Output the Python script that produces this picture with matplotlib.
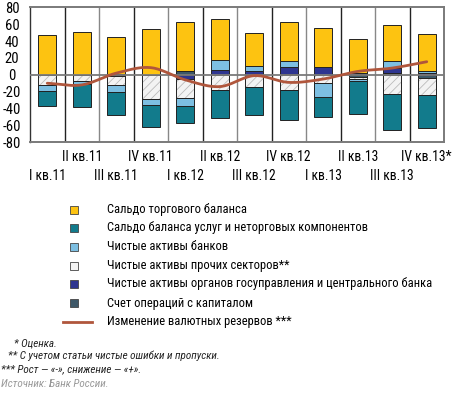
import numpy as np
import matplotlib
matplotlib.use("Agg")
import matplotlib.pyplot as plt
from matplotlib import font_manager as fm
from matplotlib.patches import Rectangle
from matplotlib.lines import Line2D

# pick a condensed font if one is installed
narrow = None
names = {f.name for f in fm.fontManager.ttflist}
for cand in ['Liberation Sans Narrow', 'Arial Narrow', 'DejaVu Sans Condensed', 'Roboto Condensed',
             'Open Sans Condensed', 'Noto Sans Condensed']:
    if cand in names:
        narrow = cand
        break
stretch = 'normal'
if narrow is None:
    for f in fm.fontManager.ttflist:
        if f.name == 'DejaVu Sans' and ('Condensed' in f.fname):
            narrow = 'DejaVu Sans'
            stretch = 'condensed'
            break
if narrow is None:
    for f in fm.fontManager.ttflist:
        if ('Narrow' in f.fname or 'Condensed' in f.fname) and 'Bold' not in f.fname and 'Oblique' not in f.fname and 'Italic' not in f.fname:
            narrow = f.name
            stretch = f.stretch if isinstance(f.stretch, str) else 'condensed'
            break

if narrow is not None:
    plt.rcParams['font.family'] = [narrow, 'DejaVu Sans']
    plt.rcParams['font.stretch'] = stretch
    SC = 1.0
else:
    plt.rcParams['font.family'] = ['DejaVu Sans']
    SC = 0.78
plt.rcParams['hatch.linewidth'] = 0.6

quarters = ["I кв.11", "II кв.11", "III кв.11", "IV кв.11",
            "I кв.12", "II кв.12", "III кв.12", "IV кв.12",
            "I кв.13", "II кв.13", "III кв.13", "IV кв.13*"]

trade    = [47, 51, 44, 54, 58, 48.6, 38.4, 45.9, 47.3, 40.3, 42.7, 44.2]
services = [-18, -27, -27.5, -26, -20.5, -33.6, -33.2, -34.8, -23.7, -38.7, -42.7, -39.5]
banks    = [-7, -4, -8.5, -7, -9, 11.5, 6.3, 7.9, -17, -2.4, 7.9, 2.4]
others   = [-12, -7, -10.5, -29, -23, -17.8, -15, -18.6, -9.9, -2.3, -22.9, -20.5]
gov      = [0, 0, -1.5, 0, -4.5, 5.9, 4.7, 7.5, 8.7, 2, 5.9, 1.6]
capital  = [0, 0, 1, 0, 4, 0, 0, 1.2, 0, -3, 2, -3.2]
reserves = [-10, -12, 2, 8.5, -6, -14, -1, -9, -5, 4, 8, 15.5]

yticks = [80, 60, 40, 20, 0, -20, -40, -60, -80]

labels = ["Сальдо торгового баланса",
          "Сальдо баланса услуг и неторговых компонентов",
          "Чистые активы банков",
          "Чистые активы прочих секторов**",
          "Чистые активы органов госуправления и центрального банка",
          "Счет операций с капиталом",
          "Изменение валютных резервов ***"]

C_TRADE = '#FDC311'
C_SERV = '#127B8C'
C_BANK = '#7DBFE2'
C_OTH = '#F3F3F3'
C_GOV = '#2E3590'
C_CAP = '#3E5868'
C_LINE = '#B0563C'

fig = plt.figure(figsize=(4.59, 3.99), dpi=100)
ax = fig.add_axes([30/459, 1-142.3/399, 414/459, 135/399])

n = len(quarters)
x = np.arange(n)
w = 0.52

pos_b = np.zeros(n)
neg_b = np.zeros(n)
order = [(capital, C_CAP, None), (gov, C_GOV, None), (others, C_OTH, '////'),
         (banks, C_BANK, None), (services, C_SERV, None), (trade, C_TRADE, None)]
for vals, col, hatch in order:
    v = np.array(vals, dtype=float)
    b = np.where(v >= 0, pos_b, neg_b)
    if hatch:
        ax.bar(x, v, w, bottom=b, color=col, edgecolor='#BBBBBB', hatch=hatch, linewidth=0, zorder=2)
        ax.bar(x, v, w, bottom=b, facecolor='none', edgecolor='#222222', linewidth=0.7, zorder=2.1)
    else:
        ax.bar(x, v, w, bottom=b, color=col, edgecolor='#222222', linewidth=0.7, zorder=2)
    pos_b = pos_b + np.where(v > 0, v, 0)
    neg_b = neg_b + np.where(v < 0, v, 0)

# dividers
for i in range(n - 1):
    ax.axvline(i + 0.5, color='#222222' if i % 2 == 0 else '#888888', lw=1.0, zorder=1)

ax.axhline(0, color='#7A7A7A', lw=1.3, zorder=3)

# smooth reserves line (Catmull-Rom through quarterly values)
r = np.array(reserves, dtype=float)
px = np.concatenate([[x[0] - 1], x, [x[-1] + 1]])
py = np.concatenate([[2 * r[0] - r[1]], r, [2 * r[-1] - r[-2]]])
sx, sy = [], []
for k in range(1, len(px) - 2):
    t = np.linspace(0, 1, 20, endpoint=False)
    p0, p1, p2, p3 = py[k - 1], py[k], py[k + 1], py[k + 2]
    sy.extend(0.5 * ((2 * p1) + (-p0 + p2) * t + (2 * p0 - 5 * p1 + 4 * p2 - p3) * t**2 + (-p0 + 3 * p1 - 3 * p2 + p3) * t**3))
    sx.extend(px[k] + t)
sx.append(x[-1]); sy.append(r[-1])
ax.plot(sx, sy, color=C_LINE, lw=2.0, zorder=4, solid_capstyle='round')

ax.set_xlim(-0.5, n - 0.5)
ax.set_ylim(-80, 80)
ax.set_yticks(yticks)
ax.set_yticklabels([str(v) for v in yticks], fontsize=10.5 * max(SC, 0.9), ha='center')
ax.tick_params(axis='y', length=0, pad=13)
ax.set_xticks([])
for s in ['top', 'bottom', 'right']:
    ax.spines[s].set_color('#7A7A7A')
    ax.spines[s].set_linewidth(1.4)
ax.spines['left'].set_color('#333333')
ax.spines['left'].set_linewidth(1.0)

# x labels in two rows
for i, q in enumerate(quarters):
    yy = -97.5 if i % 2 == 1 else -120
    ax.text(i, yy, q, ha='center', va='center', fontsize=9.8 * SC, clip_on=False)

# legend (manual)
leg_y = [210, 228, 247, 266, 284, 303, 322]
cols = [C_TRADE, C_SERV, C_BANK, C_OTH, C_GOV, C_CAP]
for j, yy in enumerate(leg_y):
    yf = 1 - yy / 399
    if j < 6:
        rect = Rectangle((70/459, yf - 4/399), 8/459, 8/399, transform=fig.transFigure,
                         facecolor=cols[j], edgecolor='#444444', lw=0.6)
        fig.patches.append(rect)
    else:
        fig.lines.append(Line2D([63/459, 92/459], [yf, yf], transform=fig.transFigure,
                                color=C_LINE, lw=2.0))
    fig.text(107/459, yf, labels[j], ha='left', va='center', fontsize=9 * SC)

notes = [(14, 343, "* Оценка."),
         (8, 356, "** С учетом статьи чистые ошибки и пропуски."),
         (1, 369, "*** Рост — «-», снижение — «+»."),
         (1, 384, "Источник: Банк России.")]
for k, (nx, ny, t) in enumerate(notes):
    fig.text(nx/459, 1 - ny/399, t, ha='left', va='center', fontsize=8 * SC, style='italic',
             color='#999999' if k == 3 else '#222222')

fig.savefig('out.png', dpi=100)
